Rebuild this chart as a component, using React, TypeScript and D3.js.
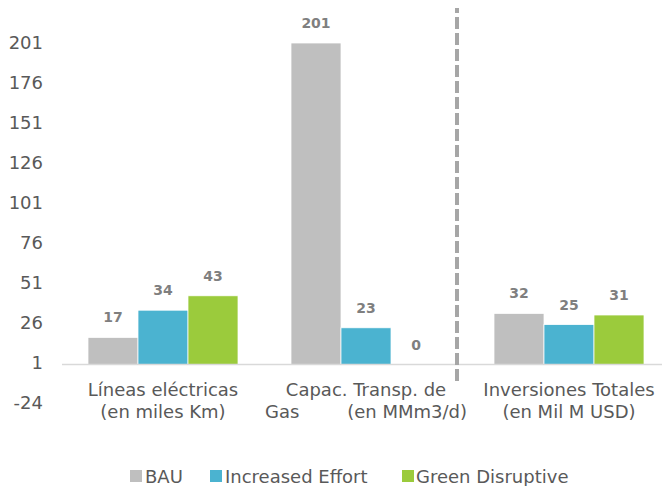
import React, { useEffect } from "react";
import * as d3 from "d3";

const categories = ["Líneas eléctricas", "Capac. Transp. de Gas", "Inversiones Totales"];
const seriesNames = ["BAU", "Increased Effort", "Green Disruptive"];
const bauValues = [17, 201, 32];
const increasedValues = [34, 23, 25];
const greenValues = [43, 0, 31];
const yTicks = [-24, 1, 26, 51, 76, 101, 126, 151, 176, 201];
const seriesColors = ["#bfbfbf", "#4bb3d0", "#9bcb3c"];

const W = 662;
const H = 486;
const FONT = "'DejaVu Sans', Verdana, sans-serif";

export default function App() {
  useEffect(() => {
    document.body.style.margin = "0";
  }, []);

  const values = [bauValues, increasedValues, greenValues];

  const y = d3.scaleLinear().domain([-24, 201]).range([403, 43]);
  const x0 = d3.scaleBand<string>().domain(categories).range([61.5, 670.5]).paddingInner(0).paddingOuter(0);
  const x1 = d3
    .scaleBand<string>()
    .domain(seriesNames)
    .range([0, x0.bandwidth()])
    .paddingInner(0)
    .paddingOuter(0.53);

  const baseY = y(0);
  const textColor = "#595959";
  const labelColor = "#7f7f7f";

  const legendItems = [
    { name: seriesNames[0], sx: 130, tx: 145 },
    { name: seriesNames[1], sx: 210, tx: 225 },
    { name: seriesNames[2], sx: 402, tx: 416 },
  ];

  return (
    <svg width={W} height={H} style={{ display: "block", background: "#fff" }} fontFamily={FONT}>
      {/* value axis tick labels */}
      {yTicks.map((t) => (
        <text key={t} x={43} y={y(t)} dy="0.36em" textAnchor="end" fontSize={18} fill={textColor}>
          {t}
        </text>
      ))}

      {/* bars */}
      {categories.map((c, ci) => (
        <g key={c} transform={`translate(${x0(c)},0)`}>
          {seriesNames.map((s, si) => {
            const v = values[si][ci];
            const top = y(v);
            const bx = x1(s) as number;
            return (
              <g key={s}>
                {v > 0 && (
                  <rect
                    x={bx}
                    y={top}
                    width={x1.bandwidth()}
                    height={baseY - top}
                    fill={seriesColors[si]}
                    stroke="#ffffff"
                    strokeWidth={0.75}
                  />
                )}
                <text
                  x={bx + x1.bandwidth() / 2}
                  y={top - 15}
                  textAnchor="middle"
                  fontSize={14}
                  fontWeight="bold"
                  fill={labelColor}
                >
                  {v}
                </text>
              </g>
            );
          })}
        </g>
      ))}

      {/* category axis line */}
      <line x1={62} x2={W} y1={baseY} y2={baseY} stroke="#d9d9d9" strokeWidth={1.5} />

      {/* category labels */}
      {(() => {
        const c0 = (x0(categories[0]) as number) + x0.bandwidth() / 2;
        const c1 = (x0(categories[1]) as number) + x0.bandwidth() / 2;
        const c2 = (x0(categories[2]) as number) + x0.bandwidth() / 2;
        return (
          <g fontSize={18} fill={textColor}>
            <text x={c0} y={396} textAnchor="middle">Líneas eléctricas</text>
            <text x={c0} y={418} textAnchor="middle">(en miles Km)</text>
            <text x={c1} y={396} textAnchor="middle">Capac. Transp. de</text>
            <text x={c1 - 101} y={418} textAnchor="start">Gas</text>
            <text x={c1 + 101} y={418} textAnchor="end">(en MMm3/d)</text>
            <text x={c2} y={396} textAnchor="middle">Inversiones Totales</text>
            <text x={c2} y={418} textAnchor="middle">(en Mil M USD)</text>
          </g>
        );
      })()}

      {/* separator between physical capacity and investment */}
      <line
        x1={457}
        x2={457}
        y1={8}
        y2={381}
        stroke="#a6a6a6"
        strokeWidth={4}
        strokeDasharray="12 4"
        strokeDashoffset={7}
      />

      {/* legend */}
      <g transform={`translate(0, ${H - 16})`}>
        {legendItems.map((it, i) => (
          <g key={it.name}>
            <rect x={it.sx} y={0} width={12} height={12} fill={seriesColors[i]} />
            <text x={it.tx} y={13} fontSize={18} fill={textColor}>
              {it.name}
            </text>
          </g>
        ))}
      </g>
    </svg>
  );
}
